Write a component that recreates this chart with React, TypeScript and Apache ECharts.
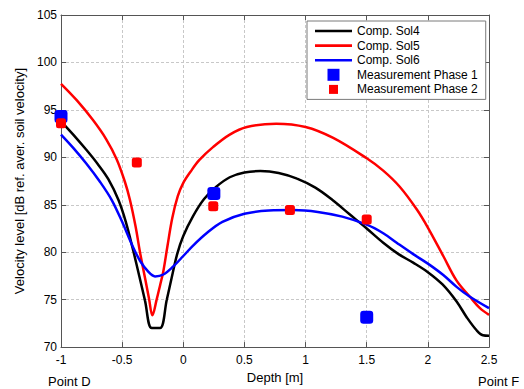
import React, { useEffect, useRef } from "react";
import * as echarts from "echarts";

const xTicks = { min: -1, max: 2.5, interval: 0.5 };
const yTicks = { min: 70, max: 105, interval: 5 };

const sol4: [number, number][] = [
  [-1, 93.8], [-0.9, 92.4], [-0.8, 90.9], [-0.7, 89.3], [-0.613, 87.7], [-0.53, 85.5],
  [-0.47, 83.2], [-0.41, 80.2], [-0.36, 77.5], [-0.313, 74.9], [-0.258, 72.0], [-0.19, 72.0],
  [-0.135, 75.0], [-0.095, 77.3], [-0.05, 79.8], [0, 81.7], [0.08, 83.8], [0.17, 85.6],
  [0.27, 86.9], [0.38, 87.9], [0.5, 88.4], [0.63, 88.55], [0.78, 88.35], [0.93, 87.75],
  [1.08, 86.8], [1.22, 85.5], [1.36, 84.0], [1.5, 82.5], [1.635, 81.0], [1.76, 79.8],
  [1.88, 78.9], [2.0, 77.9], [2.12, 76.6], [2.235, 74.8], [2.32, 73.1], [2.4, 71.75],
  [2.45, 71.25], [2.5, 71.2],
];

const sol5: [number, number][] = [
  [-1, 97.75], [-0.87, 96.0], [-0.74, 93.95], [-0.63, 91.9], [-0.545, 89.8], [-0.477, 87.4],
  [-0.436, 85.5], [-0.39, 82.7], [-0.354, 80.0], [-0.31, 77.1], [-0.28, 75.1], [-0.253, 73.35],
  [-0.218, 75.0], [-0.19, 76.5], [-0.163, 78.0], [-0.13, 80.6], [-0.09, 83.6], [-0.045, 85.9],
  [0, 87.3], [0.06, 88.5], [0.13, 89.7], [0.245, 91.1], [0.38, 92.4], [0.52, 93.2],
  [0.76, 93.55], [1.0, 93.2], [1.226, 92.05], [1.5, 89.9], [1.635, 88.6], [1.77, 86.9],
  [1.91, 84.5], [2.0, 82.6], [2.126, 79.6], [2.235, 77.0], [2.344, 75.3], [2.426, 74.1],
  [2.5, 73.4],
];

const sol6: [number, number][] = [
  [-1, 92.4], [-0.9, 91.0], [-0.79, 89.3], [-0.68, 87.4], [-0.585, 85.5], [-0.5, 83.2],
  [-0.42, 80.8], [-0.354, 79.1], [-0.29, 78.0], [-0.231, 77.45], [-0.163, 77.65], [-0.082, 78.5],
  [0, 79.6], [0.08, 80.7], [0.19, 82.0], [0.32, 83.2], [0.5, 84.05], [0.7, 84.4],
  [0.9, 84.45], [1.1, 84.25], [1.3, 83.75], [1.5, 82.9], [1.635, 82.0], [1.745, 81.0],
  [1.88, 79.8], [2.0, 78.8], [2.126, 77.6], [2.235, 76.35], [2.344, 75.3], [2.5, 74.1],
];

const phase1: [number, number][] = [
  [-1, 94.3], [0.25, 86.2], [1.5, 73.15],
];

const phase2: [number, number][] = [
  [-1, 93.6], [-0.38, 89.45], [0.245, 84.85], [0.872, 84.45], [1.5, 83.45],
];

const seriesNames = ["Comp. Sol4", "Comp. Sol5", "Comp. Sol6", "Measurement Phase 1", "Measurement Phase 2"];
const xName = "Depth [m]";
const yName = "Velocity level [dB ref. aver. soil velocity]";
const leftPointLabel = "Point D";
const rightPointLabel = "Point F";

const FONT = 'Arial, "Liberation Sans", Helvetica, sans-serif';
const AXIS_COLOR = "#555555";

const LINE_ICON = "path://M0,0L0,0M37,12L37,12M0,4.7h37v2.6h-37z";
const BIG_SQUARE_ICON = "path://M0,0L0,0M37,12L37,12M12.5,0h12v12h-12z";
const SMALL_SQUARE_ICON = "path://M0,0L0,0M37,12L37,12M14,1.5h9v9h-9z";

export default function App() {
  const ref = useRef<HTMLDivElement>(null);

  useEffect(() => {
    if (!ref.current) return;
    const chart = echarts.init(ref.current, undefined, { renderer: "svg" });

    const gridLine = { show: true, lineStyle: { color: "#c8c8c8", type: [3, 2] as any, width: 1 } };
    const tick = { show: true, inside: true, length: 5, lineStyle: { color: AXIS_COLOR } };
    const axisLine = { show: true, onZero: false, lineStyle: { color: AXIS_COLOR, width: 1 } };

    const lineSeries = (name: string, data: [number, number][], color: string) => ({
      name,
      type: "line",
      data,
      xAxisIndex: 0,
      yAxisIndex: 0,
      showSymbol: false,
      symbol: "none",
      smooth: 0.35,
      lineStyle: { color, width: 2.5 },
      itemStyle: { color },
      z: 2,
    });

    chart.setOption({
      animation: false,
      backgroundColor: "#ffffff",
      textStyle: { fontFamily: FONT },
      grid: { left: 61, right: 35, top: 15, bottom: 36, containLabel: false },
      xAxis: [
        {
          type: "value",
          min: xTicks.min,
          max: xTicks.max,
          interval: xTicks.interval,
          position: "bottom",
          axisLine,
          axisTick: tick,
          splitLine: gridLine,
          axisLabel: { color: "#000", fontSize: 12, margin: 7, fontFamily: FONT },
          name: xName,
          nameLocation: "middle",
          nameGap: 22,
          nameTextStyle: { color: "#000", fontSize: 13, fontFamily: FONT },
        },
        {
          type: "value",
          min: xTicks.min,
          max: xTicks.max,
          interval: xTicks.interval,
          position: "top",
          axisLine,
          axisTick: tick,
          splitLine: { show: false },
          axisLabel: { show: false },
        },
      ],
      yAxis: [
        {
          type: "value",
          min: yTicks.min,
          max: yTicks.max,
          interval: yTicks.interval,
          position: "left",
          axisLine,
          axisTick: tick,
          splitLine: gridLine,
          axisLabel: { color: "#000", fontSize: 12, margin: 4, fontFamily: FONT },
          name: yName,
          nameLocation: "middle",
          nameGap: 33,
          nameTextStyle: { color: "#000", fontSize: 13, fontFamily: FONT },
        },
        {
          type: "value",
          min: yTicks.min,
          max: yTicks.max,
          interval: yTicks.interval,
          position: "right",
          axisLine,
          axisTick: tick,
          splitLine: { show: false },
          axisLabel: { show: false },
        },
      ],
      legend: {
        left: 307,
        top: 21,
        orient: "vertical",
        backgroundColor: "#ffffff",
        borderColor: "#7a7a7a",
        borderWidth: 1,
        borderRadius: 0,
        padding: [4, 8, 4, 8],
        itemWidth: 37,
        itemHeight: 12,
        itemGap: 2.6,
        textStyle: { color: "#000", fontSize: 12, fontFamily: FONT },
        data: [
          { name: seriesNames[0], icon: LINE_ICON },
          { name: seriesNames[1], icon: LINE_ICON },
          { name: seriesNames[2], icon: LINE_ICON },
          { name: seriesNames[3], icon: BIG_SQUARE_ICON },
          { name: seriesNames[4], icon: SMALL_SQUARE_ICON },
        ],
      },
      graphic: [
        {
          type: "text",
          left: 48,
          top: 375,
          style: { text: leftPointLabel, fill: "#000", fontSize: 13, fontFamily: FONT },
        },
        {
          type: "text",
          left: 478,
          top: 375,
          style: { text: rightPointLabel, fill: "#000", fontSize: 13, fontFamily: FONT },
        },
      ],
      series: [
        lineSeries(seriesNames[0], sol4, "#000000"),
        lineSeries(seriesNames[1], sol5, "#ff0000"),
        lineSeries(seriesNames[2], sol6, "#0000ff"),
        {
          name: seriesNames[3],
          type: "scatter",
          data: phase1,
          symbol: "roundRect",
          symbolSize: 13,
          itemStyle: { color: "#0000ff", opacity: 1 },
          z: 3,
        },
        {
          name: seriesNames[4],
          type: "scatter",
          data: phase2,
          symbol: "roundRect",
          symbolSize: 10,
          itemStyle: { color: "#ff0000", opacity: 1 },
          z: 4,
        },
      ],
    });

    return () => chart.dispose();
  }, []);

  return (
    <div
      ref={ref}
      style={{ position: "fixed", left: 0, top: 0, width: 524, height: 389, background: "#fff" }}
    />
  );
}
